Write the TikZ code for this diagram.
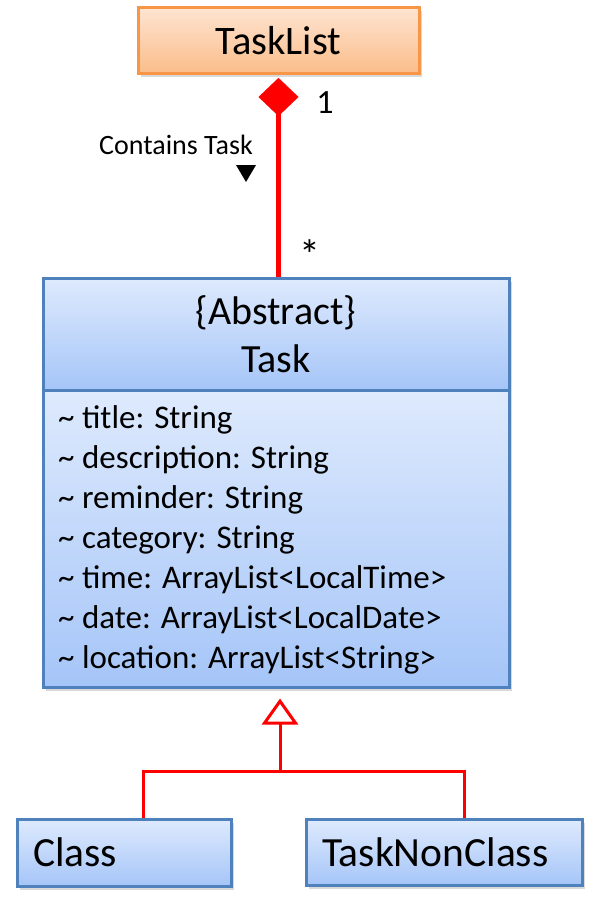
\documentclass[tikz,border=0pt]{standalone}
\usepackage{fontspec}
\setmainfont{Carlito}
\usetikzlibrary{arrows.meta,shadows}
\definecolor{umlblue}{HTML}{4F81BD}
\definecolor{bluetop}{HTML}{DEEAFD}
\definecolor{bluebot}{HTML}{A5C5F8}
\definecolor{umlorange}{HTML}{F79646}
\definecolor{orangetop}{HTML}{FEE4D1}
\definecolor{orangebot}{HTML}{FBBD8A}
\tikzset{
  boxshadow/.style={drop shadow={shadow xshift=2.5pt,shadow yshift=-3.5pt,opacity=0.3}},
  bluebox/.style={rectangle,draw=umlblue,line width=3pt,top color=bluetop,bottom color=bluebot,inner sep=0pt,boxshadow},
  orangebox/.style={rectangle,draw=umlorange,line width=3pt,top color=orangetop,bottom color=orangebot,inner sep=0pt,boxshadow},
  attrtext/.style={anchor=base west,inner sep=0pt,font=\fontsize{33}{40}\selectfont},
  compose/.style={draw=red,line width=5pt,-{Diamond[length=38pt,width=40pt,line width=0.1pt]}},
  genline/.style={draw=red,line width=3pt}
}
\begin{document}
\begin{tikzpicture}[x=1pt,y=-1pt]
    \useasboundingbox (0,0) rectangle (592,913);
        \node at (278.5,40.5) [orangebox,minimum width=281pt,minimum height=66pt,font=\fontsize{40.5}{48}\selectfont] (tasklist) {TaskList};

        \node at (276,334) [bluebox,minimum width=466pt,minimum height=112pt,align=center,font=\fontsize{40}{48}\selectfont] (taskhead) {\{Abstract\}\\Task};
        \node at (276,538.5) [bluebox,minimum width=466pt,minimum height=297pt] (taskattr) {};
        \foreach \txt [count=\i] in {title: String,description: String,reminder: String,category: String,time: ArrayList<LocalTime>,date: ArrayList<LocalDate>,location: ArrayList<String>}
            \node at (58,388+40*\i) [attrtext] (attr\i) {\textasciitilde\ \txt};

        \node at (124,852.5) [bluebox,minimum height=67pt,text width=182pt,inner xsep=16pt,align=left,font=\fontsize{41.5}{48}\selectfont] (classbox) {Class};
        \node at (444,852.5) [bluebox,minimum height=66pt,text width=244pt,inner xsep=16pt,align=left,font=\fontsize{41.5}{48}\selectfont] (nonclassbox) {TaskNonClass};

        \draw[compose,shorten >=3pt] (taskhead.north -| tasklist.south) -- (tasklist.south);
        \node at (325,103) [font=\fontsize{34}{40}\selectfont] (onelabel) {1};
        \node at (310,255) [font=\fontsize{42}{48}\selectfont] (manylabel) {*};
        \node at (176,145) [font=\fontsize{28}{34}\selectfont] (containslabel) {Contains Task};
        \fill (236,165) -- (256,165) -- (246,182) -- cycle;

        \coordinate (genjoint) at (280,771);
        \draw[genline] ([xshift=19pt]classbox.north) |- (genjoint) -| ([xshift=20pt]nonclassbox.north);
        \draw[genline,shorten >=10pt,-{Triangle[open,length=26pt,width=36pt,fill=white]}] (genjoint) -- (genjoint |- taskattr.south);
\end{tikzpicture}
\end{document}
